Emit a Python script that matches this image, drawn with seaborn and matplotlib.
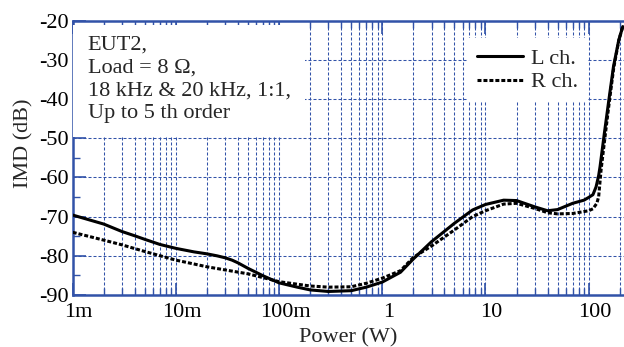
import matplotlib
matplotlib.use("Agg")
import matplotlib.pyplot as plt
import matplotlib.transforms as mtransforms
from matplotlib.patches import Rectangle
import numpy as np
import pandas as pd
import seaborn as sns

# ---- data ----
L_power = [0.001, 0.002, 0.003, 0.004, 0.005, 0.007, 0.01, 0.015, 0.02, 0.025, 0.03, 0.035,
           0.04, 0.05, 0.07, 0.1, 0.15, 0.2, 0.3, 0.5, 0.7, 1.0, 1.5, 2, 3, 5, 7.5, 10, 15,
           20, 30, 40, 50, 70, 90, 100, 110, 118, 125, 129, 142, 157, 174, 196, 214]
L_imd = [-69.6, -71.9, -73.8, -74.9, -75.8, -77.1, -78.1, -79.0, -79.5, -80.0, -80.5, -81.1,
         -81.8, -83.2, -85.1, -86.9, -88.0, -88.7, -89.1, -88.9, -88.0, -86.7, -84.2, -80.8,
         -76.4, -71.7, -68.3, -66.9, -65.8, -65.9, -67.5, -68.5, -68.2, -66.6, -65.8, -65.1,
         -64.4, -62.4, -59.5, -57.2, -48.7, -40.2, -31.7, -24.9, -21.5]

R_power = [0.001, 0.002, 0.003, 0.005, 0.01, 0.02, 0.03, 0.05, 0.1, 0.2, 0.3, 0.5, 0.7,
           1.0, 1.5, 2, 3, 5, 7.5, 10, 15, 20, 30, 40, 50, 70, 100, 110, 120, 125, 132,
           145, 158, 175, 196, 214]
R_imd = [-74.0, -76.0, -77.2, -78.9, -81.1, -82.8, -83.6, -84.6, -86.6, -87.7, -88.0, -87.9,
         -87.0, -85.7, -83.8, -80.4, -77.5, -73.4, -70.0, -68.5, -66.8, -66.6, -67.9, -69.0,
         -69.3, -69.2, -68.5, -68.0, -66.6, -64.9, -58.0, -49.0, -41.0, -32.0, -25.0, -21.5]

series_names = ["L ch.", "R ch."]
x_ticks = [0.001, 0.01, 0.1, 1, 10, 100]
x_ticklabels = ["1m", "10m", "100m", "1", "10", "100"]
y_ticks = [-90, -80, -70, -60, -50, -40, -30, -20]
y_ticklabels = ["-90", "-80", "-70", "-60", "-50", "-40", "-30", "-20"]
annotation = "EUT2,\nLoad = 8 \u03a9,\n18 kHz & 20 kHz, 1:1,\nUp to 5 th order"

# ---- style ----
sns.set_style("ticks")
plt.rcParams["font.family"] = ["Liberation Serif", "DejaVu Serif"]
FS = 16
plt.rcParams["font.size"] = FS

BLUE = "#3152a8"

fig = plt.figure(figsize=(6.24, 3.47), dpi=100)
W, H = 624, 347
ax_left, ax_right, ax_top, ax_bot = 72.7, 624.0, 20.7, 295.0
ax = fig.add_axes([ax_left / W, (H - ax_bot) / H, (ax_right - ax_left) / W, (ax_bot - ax_top) / H])

dfL = pd.DataFrame({"Power": L_power, "IMD": L_imd})
dfR = pd.DataFrame({"Power": R_power, "IMD": R_imd})
sns.lineplot(data=dfL, x="Power", y="IMD", ax=ax, color="black", lw=2.2,
             label=series_names[0], zorder=5)
sns.lineplot(data=dfR, x="Power", y="IMD", ax=ax, color="black", lw=2.2,
             linestyle=(0, (1.3, 0.65)), label=series_names[1], zorder=5)
for ln in ax.get_lines():
    ln.set_solid_capstyle("round")
    ln.set_solid_joinstyle("round")
    ln.set_dash_capstyle("butt")

ax.set_xscale("log")
ax.set_xlim(1e-3, 220)
ax.set_ylim(-90, -20)

ax.set_xticks(x_ticks)
ax.set_xticklabels(x_ticklabels)
ax.xaxis.set_minor_locator(matplotlib.ticker.LogLocator(base=10, subs=np.arange(2, 10)))
ax.xaxis.set_minor_formatter(matplotlib.ticker.NullFormatter())
ax.set_yticks(y_ticks)
ax.set_yticklabels(y_ticklabels)
ax.yaxis.set_minor_locator(matplotlib.ticker.MultipleLocator(5))

ax.set_axisbelow(True)
grid_ls = (0, (2.9, 1.9))
ax.grid(True, which="major", axis="both", color=BLUE, lw=0.75, linestyle=grid_ls)
ax.grid(True, which="minor", axis="x", color=BLUE, lw=0.75, linestyle=grid_ls)

for side in ["left", "bottom", "top"]:
    ax.spines[side].set_color(BLUE)
    ax.spines[side].set_linewidth(1.8)
ax.spines["right"].set_visible(False)

ax.tick_params(which="major", direction="in", length=9, width=1.2, color=BLUE,
               top=True, right=False, labelsize=FS, labelcolor="black")
ax.tick_params(which="minor", direction="in", length=5, width=1.0, color=BLUE,
               top=True, right=False)
ax.tick_params(axis="x", which="major", pad=6)
ax.tick_params(axis="y", which="major", pad=3)

# x tick labels are shifted slightly right in the reference
offset = mtransforms.ScaledTranslation(6 / 100, 0, fig.dpi_scale_trans)
for lab in ax.get_xticklabels():
    lab.set_transform(lab.get_transform() + offset)

ax.set_xlabel("Power (W)", fontsize=FS, labelpad=4)
ax.set_ylabel("IMD (dB)", fontsize=FS)
ax.yaxis.set_label_coords(-0.072, 0.554)

def px_to_axes(xp, yp):
    return (xp - ax_left) / (ax_right - ax_left), (ax_bot - yp) / (ax_bot - ax_top)

# white box behind the annotation text
x0, y0 = px_to_axes(72.7, 137)
x1, y1 = px_to_axes(305, 25)
ax.add_patch(Rectangle((x0, y0), x1 - x0, y1 - y0, transform=ax.transAxes,
                       facecolor="white", edgecolor="none", zorder=3))
tx, ty = px_to_axes(87.5, 36)
ax.text(tx, ty, annotation, transform=ax.transAxes, ha="left", va="top",
        fontsize=FS, linespacing=1.27, zorder=4)

lx, ly = px_to_axes(467, 38)
leg = ax.legend(loc="upper left", bbox_to_anchor=(lx, ly), borderaxespad=0,
                frameon=True, fancybox=False, framealpha=1.0, edgecolor="none",
                facecolor="white", fontsize=FS, handlelength=2.07, handletextpad=0.36,
                labelspacing=0.15, borderpad=0.45)
leg.set_zorder(6)

fig.savefig("out.png", dpi=100)
